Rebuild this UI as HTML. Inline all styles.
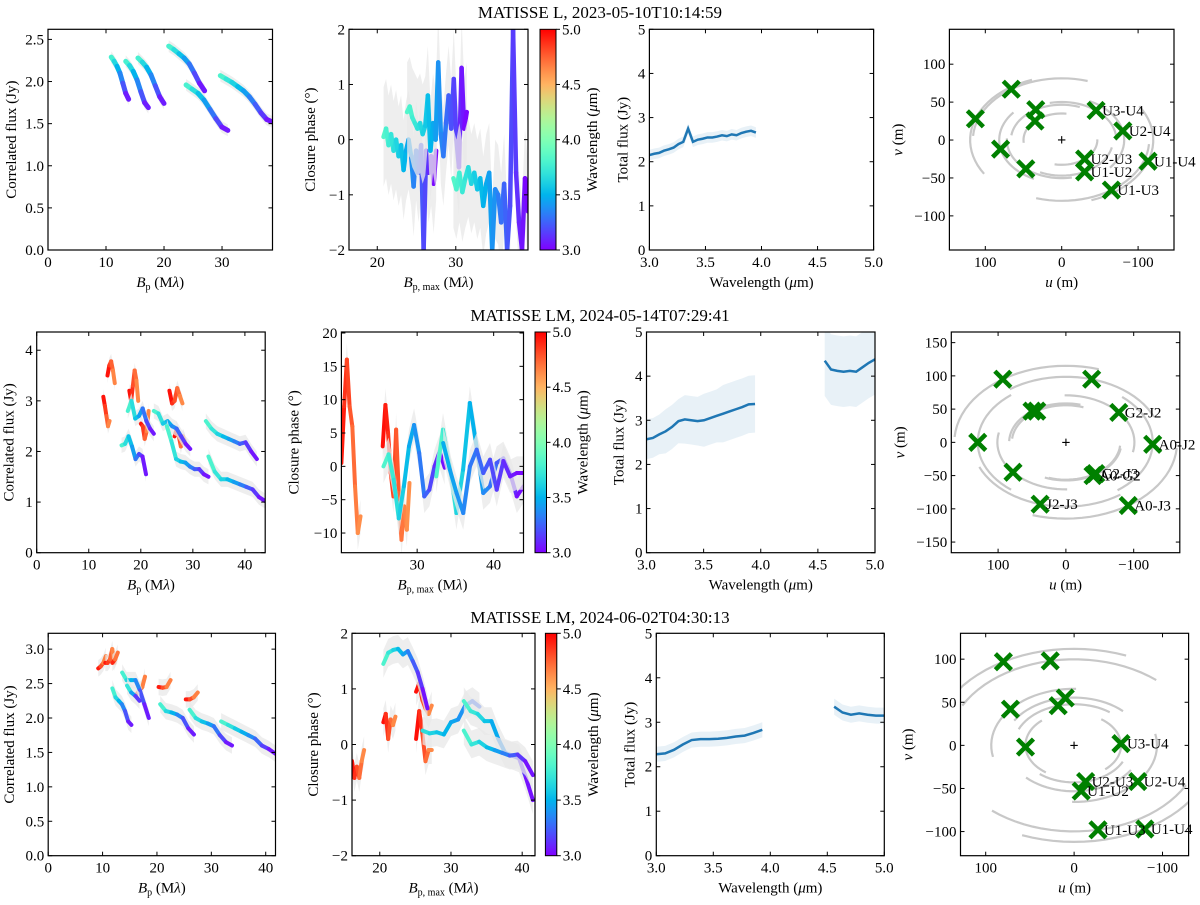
<!DOCTYPE html>
<html><head><meta charset="utf-8">
<style>
body{margin:0;background:#fff}
svg{display:block;font-family:"Liberation Serif","DejaVu Serif",serif}
</style></head>
<body>
<svg id="fig" xmlns="http://www.w3.org/2000/svg" width="1200" height="905" viewBox="0 0 1200 905">
<text x="600" y="18" font-size="17" text-anchor="middle">MATISSE L, 2023-05-10T10:14:59</text>
<text x="600" y="321" font-size="17" text-anchor="middle">MATISSE LM, 2024-05-14T07:29:41</text>
<text x="600" y="623" font-size="17" text-anchor="middle">MATISSE LM, 2024-06-02T04:30:13</text>
</svg>
<script>
// ===== Row 1 data =====
const r1FluxX = [[10.9,13.9],[13.4,17.3],[15.5,20.0],[20.8,27.0],[23.8,31.0],[29.7,38.7]];
const r1FluxW = [[3.85,3.0],[3.85,3.0],[3.85,3.0],[3.85,3.0],[3.85,3.0],[3.85,3.0]];
const r1FluxY = [
 [2.29,2.24,2.18,2.10,1.98,1.86,1.79],
 [2.24,2.19,2.12,2.02,1.88,1.75,1.69],
 [2.28,2.23,2.17,2.08,1.95,1.82,1.74],
 [2.42,2.38,2.33,2.28,2.21,2.10,1.98,1.89],
 [1.96,1.91,1.86,1.78,1.67,1.56,1.46,1.42],
 [2.07,2.03,1.99,1.94,1.89,1.82,1.73,1.63,1.55,1.52]
];
const r1CpX = [[20.8,27.5],[23.8,31.4],[29.7,39.2]];
const r1CpW = [[3.85,3.0],[3.85,3.0],[3.85,3.0]];
const r1CpY = [
 [0.05,0.2,-0.1,0.1,-0.2,0,-0.3,-0.1,-0.55,-0.2,0,-0.3,-0.85,-0.2,-0.6,-0.1,-2.0,-0.2,-0.6,-0.3,-0.8,-0.2],
 [0.5,0.6,0.4,0.3,0.2,0.3,0.1,0.25,0.8,-0.2,0.3,0.0,1.4,0.1,-0.3,0.3,0.8,0.2,1.1,0.0,-0.5,1.3,0.2,0.5],
 [-0.7,-0.9,-0.6,-0.95,-0.7,-0.5,-0.8,-0.6,-0.9,-0.7,-1.2,-0.8,-0.6,-2.0,-0.9,-1.0,-1.5,-0.8,-2.0,-1.2,2.0,-0.6,-1.5,-2.0,-0.7,-1.3]
];
const r1TfX = [3.0,3.95];
const r1TfY = [2.15,2.18,2.2,2.25,2.28,2.32,2.4,2.45,2.75,2.45,2.5,2.52,2.55,2.55,2.57,2.6,2.58,2.62,2.6,2.65,2.68,2.7,2.66];
const r1TfE = [0.12];
const r1U = [113,66,34,35,80,47,-45,-80,-30,-30,-113,-65];
const r1V = [28,67,40,25,-12,-38,39,12,-25,-42,-28,-66];
const r1Lab = ["","","","","","","U3-U4","U2-U4","U2-U3","U1-U2","U1-U4","U1-U3"];

// ===== Row 2 data =====
const r2FluxX = [[12.8,14.0],[13.6,15.0],[17.8,19.5],[20.0,21.5],[25.5,28.0],[26.5,28.5],[16.3,21.0],[17.5,22.5],[22.5,29.5],[25.0,33.0],[32.5,42.3],[33.0,43.9]];
const r2FluxW = [[5.0,4.6],[5.0,4.6],[5.0,4.6],[5.0,4.6],[5.0,4.6],[5.0,4.6],[3.85,3.0],[3.85,3.0],[3.85,3.0],[3.85,3.0],[3.85,3.0],[3.85,3.0]];
const r2FluxY = [
 [3.08,2.9,2.7,2.5,2.6],
 [3.5,3.7,3.78,3.6,3.35],
 [3.2,3.0,3.3,3.6,3.4,3.0],
 [2.55,2.5,2.25,2.4,2.8],
 [3.2,2.95,3.0,3.25,3.1,2.95],
 [2.3,2.45,2.3,2.1,2.3,2.2],
 [2.12,2.15,2.3,2.1,1.85,1.95,1.9,1.55],
 [2.8,3.0,2.65,2.7,2.85,2.6,2.45,2.35],
 [2.8,2.75,2.55,2.6,2.5,2.45,2.3,2.15,2.05],
 [2.5,2.2,1.85,1.8,1.78,1.7,1.65,1.65,1.55,1.5],
 [2.6,2.45,2.35,2.3,2.25,2.2,2.15,2.18,2.0,1.85],
 [1.9,1.6,1.45,1.45,1.4,1.35,1.3,1.25,1.1,1.02]
];
const r2CpX = [[20.1,22.6],[25.5,29.0],[25.6,33.6],[32.5,43.9],[33.4,43.9]];
const r2CpW = [[4.95,4.6],[4.98,4.6],[3.85,3.0],[3.85,3.0],[3.5,3.0]];
const r2CpY = [
 [0.5,9,16,9,6,-3,-10,-7.5],
 [3,9.2,5,-1,-4.5,5.5,-4,-11,-6,-9.5,-2.5],
 [0,1.8,-2,-7.8,-3,3,6.2,2,-4.5,-3.5,0,2.2,-0.2],
 [-1.5,5.5,0,-7,-0.5,9.5,3,-4,-3,0.5,1.2,-1,-4.5,-3],
 [3.5,-0.5,-4,-7,0,2.5,-1,1,-3.5,0.8,-1.5,-1,-1]
];
const r2TfLX = [3.0,3.95];
const r2TfLY = [2.57,2.6,2.68,2.75,2.85,2.98,3.02,3.0,2.98,3.0,3.05,3.1,3.15,3.2,3.25,3.3,3.36,3.37];
const r2TfLE = [0.45,0.5,0.55,0.6,0.65,0.65];
const r2TfMX = [4.56,5.0];
const r2TfMY = [4.35,4.15,4.12,4.1,4.12,4.1,4.2,4.3,4.38];
const r2TfME = [0.8];
const r2U = [93,-38,50,43,-78,130,-128,78,-40,-44,38,-92];
const r2V = [95,95,47,47,45,0,-3,-45,-50,-47,-93,-95];
const r2Lab = ["","","","","G2-J2","","A0-J2","","A0-G2","G2-J3","J2-J3","A0-J3"];

// ===== Row 3 data =====
const r3FluxX = [[9.2,10.6],[10.5,12.2],[11.8,12.8],[16.3,17.8],[20.3,22.5],[25.3,27.5],[11.8,15.3],[13.6,18.5],[14.5,16.8],[20.6,26.8],[26.0,33.8],[31.8,41.8]];
const r3FluxW = [[5.0,4.6],[5.0,4.6],[5.0,4.6],[5.0,4.6],[5.0,4.6],[5.0,4.6],[3.85,3.0],[3.85,3.0],[3.85,3.0],[3.85,3.0],[3.85,3.0],[3.85,3.0]];
const r3FluxY = [
 [2.72,2.75,2.8,2.9],
 [2.8,2.8,2.85,3.0,2.8],
 [2.8,2.85,2.95],
 [2.35,2.4,2.45,2.6],
 [2.45,2.44,2.45,2.55],
 [2.27,2.27,2.3,2.37],
 [2.43,2.3,2.25,2.2,2.1,1.95,1.9],
 [2.66,2.55,2.55,2.55,2.4,2.2,2.0],
 [2.47,2.37,2.32,2.25],
 [2.2,2.1,2.08,2.05,2.0,1.85,1.76],
 [2.12,2.0,1.95,1.92,1.88,1.75,1.65,1.6],
 [1.95,1.9,1.85,1.8,1.75,1.7,1.6,1.55,1.48]
];
const r3CpX = [[16.1,17.8],[20.5,22.2],[25.1,27.3],[25.1,27.3],[20.5,26.7],[26.0,34.0],[31.8,41.5],[31.8,41.5]];
const r3CpW = [[5.0,4.6],[5.0,4.6],[5.0,4.6],[5.0,4.6],[3.85,3.0],[3.7,3.25],[3.85,3.0],[3.85,3.0]];
const r3CpY = [
 [-0.3,-0.6,-0.4,-0.6,-0.3,-0.1],
 [0.4,0.55,0.1,0.45,0.35,0.5],
 [0.95,1.1,0.8,0.65,0.55,0.7],
 [0.1,0.6,0.2,-0.3,-0.1,-0.1],
 [1.45,1.65,1.7,1.72,1.62,1.68,1.5,1.3,1.0,0.65],
 [0.25,0.2,0.22,0.18,0.4,0.45,0.7,0.78,0.68],
 [0.78,0.6,0.55,0.42,0.42,0.1,-0.15,-0.2,-0.25,-0.6,-1.0],
 [0.25,0.0,0.05,-0.05,-0.1,-0.15,-0.2,-0.18,-0.3,-0.55]
];
const r3TfLX = [3.0,3.93];
const r3TfLY = [2.28,2.3,2.38,2.5,2.6,2.62,2.62,2.63,2.65,2.68,2.7,2.76,2.83];
const r3TfLE = [0.17];
const r3TfMX = [4.56,5.0];
const r3TfMY = [3.35,3.22,3.17,3.2,3.17,3.15,3.15];
const r3TfME = [0.18];
const r3U = [80,27,72,18,10,55,-53,-72,-13,-8,-27,-80];
const r3V = [97,98,42,46,55,-2,2,-42,-42,-53,-98,-97];
const r3Lab = ["","","","","","","U3-U4","U2-U4","U2-U3","U1-U2","U1-U3","U1-U4"];

// ===== tick arrays =====
const fluxTicks1 = [0,0.5,1,1.5,2,2.5], fluxTickLab1 = ["0.0","0.5","1.0","1.5","2.0","2.5"];
const bpTicks1 = [0,10,20,30];
const cpTicks1 = [-2,-1,0,1,2];
const bpmTicks1 = [20,30];
const tfXTicks = [3.0,3.5,4.0,4.5,5.0], tfXLab = ["3.0","3.5","4.0","4.5","5.0"];
const tfYTicks = [0,1,2,3,4,5];
const uvTicks = [100,0,-100];
const vTicks1 = [-100,-50,0,50,100];
const fluxTicks2 = [0,1,2,3,4];
const bpTicks2 = [0,10,20,30,40];
const cpTicks2 = [-10,-5,0,5,10,15,20];
const bpmTicks2 = [30,40];
const vTicks2 = [-150,-100,-50,0,50,100,150];
const vTicks3 = [-100,-50,0,50,100];
const fluxTicks3 = [0,0.5,1,1.5,2,2.5,3], fluxTickLab3 = ["0.0","0.5","1.0","1.5","2.0","2.5","3.0"];
const bpmTicks3 = [20,30,40];
const cbTicks = [3.0,3.5,4.0,4.5,5.0], cbLab = ["3.0","3.5","4.0","4.5","5.0"];

// ===== helpers =====
const NS = 'http://www.w3.org/2000/svg';
const svg = document.getElementById('fig');
const FS = '15';
function mk(tag, parent){ const e=document.createElementNS(NS,tag); (parent||svg).appendChild(e); return e; }
function fmtNum(v){ return (v<0?'\u2212':'')+Math.abs(v); }
function rainbow(w){
  let t=(w-3)/2; t=Math.max(0,Math.min(1,t));
  const c=v=>Math.round(255*Math.max(0,Math.min(1,v)));
  return 'rgb('+c(Math.abs(2*t-0.5))+','+c(Math.sin(Math.PI*t))+','+c(Math.cos(Math.PI*t/2))+')';
}
let clipN=0;
function axes(p){
  p.sx=v=>p.L+(v-p.xmin)/(p.xmax-p.xmin)*(p.R-p.L);
  p.sy=v=>p.B-(v-p.ymin)/(p.ymax-p.ymin)*(p.B-p.T);
  const cp=mk('clipPath'); cp.setAttribute('id','cp'+clipN);
  const cr=mk('rect',cp); cr.setAttribute('x',p.L); cr.setAttribute('y',p.T); cr.setAttribute('width',p.R-p.L); cr.setAttribute('height',p.B-p.T);
  p.g=mk('g'); p.g.setAttribute('clip-path','url(#cp'+clipN+')');
  
  
  clipN++;
  return p;
}
function frame(p, xt, xl, yt, yl, xlabel, ylabel, yoff){
  const fr=mk('rect'); fr.setAttribute('x',p.L); fr.setAttribute('y',p.T); fr.setAttribute('width',p.R-p.L); fr.setAttribute('height',p.B-p.T);
  fr.setAttribute('fill','none'); fr.setAttribute('stroke','#000'); fr.setAttribute('stroke-width','1.2');
  
  
  xt.forEach((v,i)=>{
    const x=p.sx(v);
    [[p.B,p.B-4],[p.T,p.T+4]].forEach(a=>{const l=mk('line'); l.setAttribute('x1',x);l.setAttribute('x2',x);l.setAttribute('y1',a[0]);l.setAttribute('y2',a[1]);l.setAttribute('stroke','#000');
      
      });
    const t=mk('text'); t.setAttribute('x',x); t.setAttribute('y',p.B+17); t.setAttribute('font-size',FS); t.setAttribute('text-anchor','middle');
    t.textContent = xl ? xl[i] : fmtNum(v);
    
    
  });
  yt.forEach((v,i)=>{
    const y=p.sy(v);
    [[p.L,p.L+4],[p.R,p.R-4]].forEach(a=>{const l=mk('line'); l.setAttribute('y1',y);l.setAttribute('y2',y);l.setAttribute('x1',a[0]);l.setAttribute('x2',a[1]);l.setAttribute('stroke','#000');
      
      });
    const t=mk('text'); t.setAttribute('x',p.L-4); t.setAttribute('y',y+5); t.setAttribute('font-size',FS); t.setAttribute('text-anchor','end');
    t.textContent = yl ? yl[i] : fmtNum(v);
    
    
  });
  const xlab=mk('text'); xlab.setAttribute('x',(p.L+p.R)/2); xlab.setAttribute('y',p.B+37); xlab.setAttribute('font-size',FS); xlab.setAttribute('text-anchor','middle');
  xlab.innerHTML = xlabel;
  
  
  const yx=p.L-yoff, yy=(p.T+p.B)/2;
  const ylab=mk('text'); ylab.setAttribute('x',yx); ylab.setAttribute('y',yy); ylab.setAttribute('font-size',FS); ylab.setAttribute('text-anchor','middle');
  ylab.setAttribute('transform','rotate(-90 '+yx+' '+yy+')'); ylab.setAttribute('dominant-baseline','central');
  ylab.innerHTML = ylabel;
  
  
}
function segs(p, X, W, Y, err, sw){
  X.forEach((xr,s)=>{
    const ys=Y[s], n=ys.length;
    const px=i=>xr[0]+(xr[1]-xr[0])*i/(n-1);
    const pw=i=>W[s][0]+(W[s][1]-W[s][0])*i/(n-1);
    let up='',dn='';
    ys.forEach((y,i)=>{up+=p.sx(px(i))+','+p.sy(y+err)+' ';});
    for(let i=n-1;i>=0;i--) dn+=p.sx(px(i))+','+p.sy(ys[i]-err)+' ';
    const band=mk('polygon',p.g); band.setAttribute('points',up+dn); band.setAttribute('fill','#e8e8e8'); band.setAttribute('opacity','0.75');
    
    
    const sg=mk('g',p.g);
    
    
    for(let i=0;i<n-1;i++){
      const l=mk('line',sg);
      l.setAttribute('x1',p.sx(px(i))); l.setAttribute('y1',p.sy(ys[i]));
      l.setAttribute('x2',p.sx(px(i+1))); l.setAttribute('y2',p.sy(ys[i+1]));
      l.setAttribute('stroke',rainbow((pw(i)+pw(i+1))/2)); l.setAttribute('stroke-width',sw); l.setAttribute('stroke-linecap','round');
    }
  });
}
function tfline(p, xr, Y, E, name){
  const n=Y.length, px=i=>xr[0]+(xr[1]-xr[0])*i/(n-1);
  const e=i=>E[Math.min(E.length-1,Math.floor(i*E.length/n))];
  let up='',dn='',ln='';
  Y.forEach((y,i)=>{up+=p.sx(px(i))+','+p.sy(y+e(i))+' '; ln+=p.sx(px(i))+','+p.sy(y)+' ';});
  for(let i=n-1;i>=0;i--) dn+=p.sx(px(i))+','+p.sy(Y[i]-e(i))+' ';
  const b=mk('polygon',p.g); b.setAttribute('points',up+dn); b.setAttribute('fill','#1f77b4'); b.setAttribute('opacity','0.1');
  
  
  const l=mk('polyline',p.g); l.setAttribute('points',ln); l.setAttribute('fill','none'); l.setAttribute('stroke','#1f77b4'); l.setAttribute('stroke-width','2.5');
  
  
}
function uv(p, U, V, Lab){
  U.forEach((u,i)=>{
    const v=V[i], q=0.7, a=Math.hypot(u,v/q), t=Math.atan2(v/q,u);
    let d='';
    for(let k=0;k<=24;k++){const tt=t-0.9+1.8*k/24; d+=(k?'L':'M')+p.sx(a*Math.cos(tt))+','+p.sy(a*q*Math.sin(tt));}
    const arc=mk('path',p.g); arc.setAttribute('d',d); arc.setAttribute('fill','none'); arc.setAttribute('stroke','#c8c8c8'); arc.setAttribute('stroke-width','2.2');
    
    
  });
  const o=mk('text',p.g); o.setAttribute('x',p.sx(0)); o.setAttribute('y',p.sy(0)+5); o.setAttribute('text-anchor','middle'); o.setAttribute('font-size','16'); o.setAttribute('font-weight','bold'); o.textContent='+';
  
  
  U.forEach((u,i)=>{
    const x=p.sx(u), y=p.sy(V[i]);
    const c=mk('path',p.g); c.setAttribute('d','M'+(x-8)+','+(y-8)+'L'+(x+8)+','+(y+8)+'M'+(x-8)+','+(y+8)+'L'+(x+8)+','+(y-8));
    c.setAttribute('stroke','#008000'); c.setAttribute('stroke-width','4.5');
    
    
    if(Lab[i]){
      const t=mk('text'); t.setAttribute('x',x+6); t.setAttribute('y',y+5); t.setAttribute('font-size',FS); t.textContent=Lab[i];
      
      
    }
  });
}
function colorbar(L,R,T,B,name){
  const gid='grad'+name;
  const lg=mk('linearGradient'); lg.setAttribute('id',gid); lg.setAttribute('x1','0');lg.setAttribute('x2','0');lg.setAttribute('y1','1');lg.setAttribute('y2','0');
  for(let k=0;k<=20;k++){const s=mk('stop',lg); s.setAttribute('offset',k/20); s.setAttribute('stop-color',rainbow(3+2*k/20));}
  const r=mk('rect'); r.setAttribute('x',L); r.setAttribute('y',T); r.setAttribute('width',R-L); r.setAttribute('height',B-T); r.setAttribute('fill','url(#'+gid+')'); r.setAttribute('stroke','#000');
  
  
  cbTicks.forEach((v,i)=>{
    const y=B-(v-3)/2*(B-T);
    const l=mk('line'); l.setAttribute('x1',R); l.setAttribute('x2',R+4); l.setAttribute('y1',y); l.setAttribute('y2',y); l.setAttribute('stroke','#000');
    
    
    const t=mk('text'); t.setAttribute('x',R+6); t.setAttribute('y',y+5); t.setAttribute('font-size',FS); t.textContent=cbLab[i];
    
    
  });
  const cx=R+37, cy=(T+B)/2;
  const lab=mk('text'); lab.setAttribute('x',cx); lab.setAttribute('y',cy); lab.setAttribute('font-size',FS); lab.setAttribute('text-anchor','middle'); lab.setAttribute('dominant-baseline','central');
  lab.setAttribute('transform','rotate(-90 '+cx+' '+cy+')');
  lab.innerHTML='Wavelength (<tspan font-style="italic">\u03bc</tspan>m)';
  
  
}
const BP='<tspan font-style="italic">B</tspan><tspan font-size="10" dy="3">p</tspan><tspan dy="-3"> (M</tspan><tspan font-style="italic">\u03bb</tspan>)';
const BPM='<tspan font-style="italic">B</tspan><tspan font-size="10" dy="3">p, max</tspan><tspan dy="-3"> (M</tspan><tspan font-style="italic">\u03bb</tspan>)';
const WL='Wavelength (<tspan font-style="italic">\u03bc</tspan>m)';
const UL='<tspan font-style="italic">u</tspan> (m)', VL='<tspan font-style="italic">v</tspan> (m)';

// ===== Row 1 =====
let p=axes({name:'r1-corr-flux',L:48,R:272.5,T:29.3,B:250,xmin:0,xmax:38.7,ymin:0,ymax:2.62});
segs(p,r1FluxX,r1FluxW,r1FluxY,0.07,5);
frame(p,bpTicks1,null,fluxTicks1,fluxTickLab1,BP,'Correlated flux (Jy)',36);
p=axes({name:'r1-closure-phase',L:349,R:528,T:29.3,B:250,xmin:16.4,xmax:39.2,ymin:-2,ymax:2});
segs(p,r1CpX,r1CpW,r1CpY,0.9,4.5);
frame(p,bpmTicks1,null,cpTicks1,null,BPM,'Closure phase (\u00b0)',38);
colorbar(540,556,29.3,250,'r1');
p=axes({name:'r1-total-flux',L:649.4,R:873.6,T:29.3,B:250,xmin:3,xmax:5,ymin:0,ymax:5});
tfline(p,r1TfX,r1TfY,r1TfE,'r1-total-flux');
frame(p,tfXTicks,tfXLab,tfYTicks,null,WL,'Total flux (Jy)',26);
p=axes({name:'r1-uv',L:949.4,R:1174,T:29.3,B:250,xmin:147,xmax:-147,ymin:-145,ymax:146});
uv(p,r1U,r1V,r1Lab);
frame(p,uvTicks,null,vTicks1,null,UL,VL,51);

// ===== Row 2 =====
p=axes({name:'r2-corr-flux',L:36.7,R:265.2,T:332,B:552.7,xmin:0,xmax:43.9,ymin:0,ymax:4.36});
segs(p,r2FluxX,r2FluxW,r2FluxY,0.15,4);
frame(p,bpTicks2,null,fluxTicks2,null,BP,'Correlated flux (Jy)',27);
p=axes({name:'r2-closure-phase',L:341.4,R:523.5,T:332,B:552.7,xmin:20.1,xmax:43.9,ymin:-12.95,ymax:20.15});
segs(p,r2CpX,r2CpW,r2CpY,2.5,4);
frame(p,bpmTicks2,null,cpTicks2,null,BPM,'Closure phase (\u00b0)',47);
colorbar(535,546.5,332,552.7,'r2');
p=axes({name:'r2-total-flux',L:646.5,R:875,T:332,B:552.7,xmin:3,xmax:5,ymin:0,ymax:5});
tfline(p,r2TfLX,r2TfLY,r2TfLE,'r2-total-flux-l-band');
tfline(p,r2TfMX,r2TfMY,r2TfME,'r2-total-flux-m-band');
frame(p,tfXTicks,tfXLab,tfYTicks,null,WL,'Total flux (Jy)',27);
p=axes({name:'r2-uv',L:951.3,R:1179.8,T:332,B:552.7,xmin:169,xmax:-168,ymin:-166,ymax:166});
uv(p,r2U,r2V,r2Lab);
frame(p,uvTicks,null,vTicks2,null,UL,VL,51);

// ===== Row 3 =====
p=axes({name:'r3-corr-flux',L:48.2,R:275.5,T:633.3,B:855.7,xmin:0,xmax:41.8,ymin:0,ymax:3.23});
segs(p,r3FluxX,r3FluxW,r3FluxY,0.12,4);
frame(p,bpTicks2,null,fluxTicks3,fluxTickLab3,BP,'Correlated flux (Jy)',38);
p=axes({name:'r3-closure-phase',L:352,R:535,T:633.3,B:855.7,xmin:16.1,xmax:41.8,ymin:-2,ymax:2});
segs(p,r3CpX,r3CpW,r3CpY,0.25,4);
frame(p,bpmTicks3,null,cpTicks1,null,BPM,'Closure phase (\u00b0)',38);
colorbar(545.4,556.8,633.3,855.7,'r3');
p=axes({name:'r3-total-flux',L:656.3,R:884.3,T:633.3,B:855.7,xmin:3,xmax:5,ymin:0,ymax:5});
tfline(p,r3TfLX,r3TfLY,r3TfLE,'r3-total-flux-l-band');
tfline(p,r3TfMX,r3TfMY,r3TfME,'r3-total-flux-m-band');
frame(p,tfXTicks,tfXLab,tfYTicks,null,WL,'Total flux (Jy)',26);
p=axes({name:'r3-uv',L:960.5,R:1188.6,T:633.3,B:855.7,xmin:128.5,xmax:-129.5,ymin:-128,ymax:130});
uv(p,r3U,r3V,r3Lab);
frame(p,uvTicks,null,vTicks3,null,UL,VL,52);
</script>
</body></html>
